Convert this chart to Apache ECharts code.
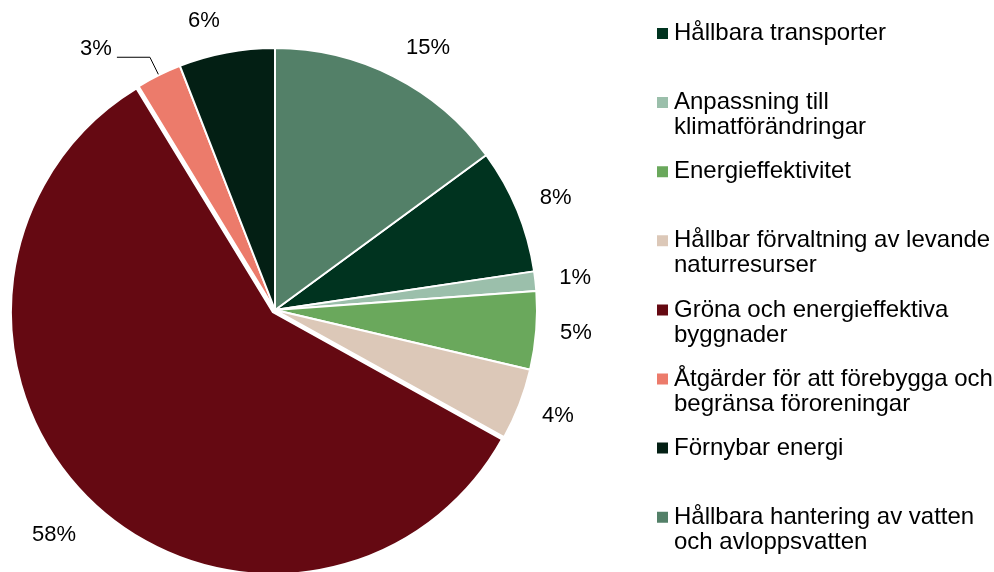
<!DOCTYPE html>
<html>
<head>
<meta charset="utf-8">
<script src="https://cdn.jsdelivr.net/npm/echarts@6/dist/echarts.min.js"></script>
<style>
  html, body { margin: 0; padding: 0; background: #fff; }
  #main { width: 994px; height: 572px; }
</style>
</head>
<body>
<div id="main"></div>
<script>
// kategorier i legendordning
var categories = [
  'Hållbara transporter',
  'Anpassning till klimatförändringar',
  'Energieffektivitet',
  'Hållbar förvaltning av levande naturresurser',
  'Gröna och energieffektiva byggnader',
  'Åtgärder för att förebygga och begränsa föroreningar',
  'Förnybar energi',
  'Hållbara hantering av vatten och avloppsvatten'
];
var legendLabels = [
  'Hållbara transporter',
  'Anpassning till\nklimatförändringar',
  'Energieffektivitet',
  'Hållbar förvaltning av levande\nnaturresurser',
  'Gröna och energieffektiva\nbyggnader',
  'Åtgärder för att förebygga och\nbegränsa föroreningar',
  'Förnybar energi',
  'Hållbara hantering av vatten\noch avloppsvatten'
];
// andelar i procent
var values = [7.7, 1.2, 4.8, 4.4, 58.1, 2.8, 5.9, 14.9];
var colors = ['#00331f', '#9bbfab', '#6aa85c', '#dcc8b8', '#650912', '#ec7b6b', '#031f14', '#538068'];

(function () {
  var chartDom = document.getElementById('main');
  var myChart = echarts.init(chartDom);
  var font = '"Liberation Sans", Arial, sans-serif';

  var total = values.reduce(function (a, b) { return a + b; }, 0);
  // sista tårtbiten (vatten) slutar kl 12
  var startAngle = 90 - values[values.length - 1] / total * 360;

  var explodeIndex = 4;  // gröna byggnader, utdragen
  var leaderIndex = 5;   // 3% med hänvisningslinje

  var data = categories.map(function (name, i) {
    var item = {
      name: name,
      value: values[i],
      itemStyle: { color: colors[i] }
    };
    if (i === explodeIndex) {
      item.selected = true;
      item.labelLine = { length: 47 };
    }
    if (i === leaderIndex) {
      item.labelLine = {
        length: 20,
        length2: 33,
        lineStyle: { opacity: 1, color: '#000', width: 1 }
      };
    }
    return item;
  });

  // en legend per post, markören på första raden
  var legends = categories.map(function (name, i) {
    var lines = legendLabels[i].split('\n').length;
    var text = lines > 1 ? '\n' + legendLabels[i] : legendLabels[i];
    return {
      data: [name],
      orient: 'vertical',
      left: 655,
      top: 33.5 + i * 69.1 - (2 * lines - 1) * 12.5,
      padding: 0,
      itemWidth: 13,
      itemHeight: 13,
      icon: 'rect',
      selectedMode: false,
      formatter: function () { return text; },
      textStyle: {
        fontFamily: font,
        fontSize: 24,
        color: '#000',
        lineHeight: 25
      }
    };
  });

  var option = {
    animation: false,
    backgroundColor: '#fff',
    legend: legends,
    series: [
      {
        type: 'pie',
        center: [275, 310],
        radius: 262,
        startAngle: startAngle,
        clockwise: true,
        avoidLabelOverlap: false,
        percentPrecision: 0,
        selectedMode: 'single',
        selectedOffset: 3,
        itemStyle: {
          borderColor: '#fff',
          borderWidth: 2
        },
        select: {
          itemStyle: { borderColor: '#fff', borderWidth: 2 }
        },
        emphasis: { disabled: true },
        label: {
          show: true,
          position: 'outside',
          formatter: '{d}%',
          fontFamily: font,
          fontSize: 22,
          color: '#000'
        },
        labelLine: {
          show: true,
          length: 21,
          length2: 0,
          lineStyle: { opacity: 0 }
        },
        // etiketten läggs utanför kanten, förskjuten åt sidan som i Excel
        labelLayout: function (params) {
          var p = params.labelLinePoints;
          if (!p) return {};
          var ux = p[1][0] - p[0][0];
          var uy = p[1][1] - p[0][1];
          var len = Math.sqrt(ux * ux + uy * uy) || 1;
          ux /= len;
          uy /= len;
          if (params.dataIndex === leaderIndex) {
            return {
              dy: -8,
              labelLinePoints: [[p[0][0] - ux * 5, p[0][1] - uy * 5], p[1], p[2]]
            };
          }
          var w = params.labelRect.width;
          var h = params.labelRect.height;
          return {
            x: p[1][0] + (ux < 0 ? -1 : 1) * (w / 2 + 3),
            y: p[1][1] + uy * h / 2,
            align: 'center',
            verticalAlign: 'middle'
          };
        },
        data: data
      }
    ]
  };

  option && myChart.setOption(option);
})();
</script>
</body>
</html>
